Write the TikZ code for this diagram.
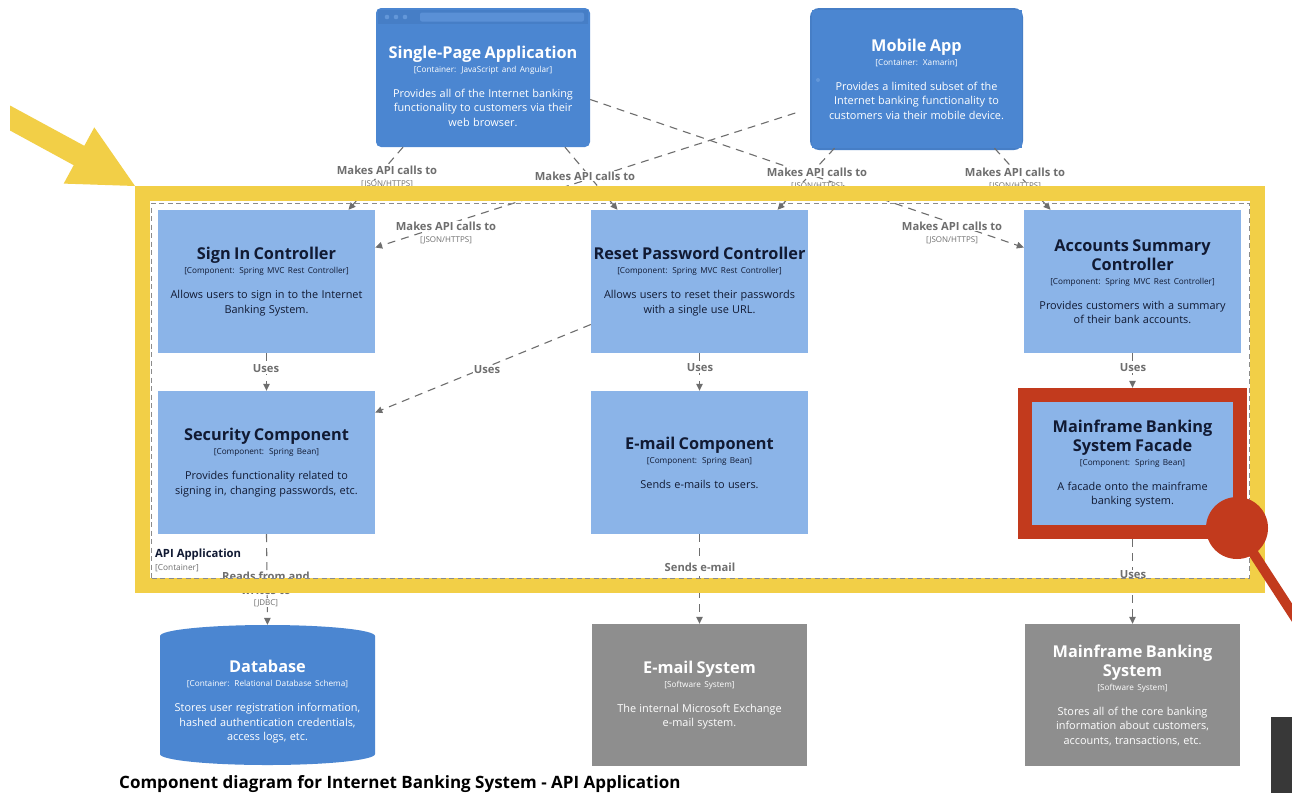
\documentclass[tikz,border=0pt]{standalone}
\usepackage{fontspec}
\setmainfont{Open Sans}
\usetikzlibrary{arrows.meta,calc}

\definecolor{contblue}{HTML}{4B86D1}
\definecolor{contdark}{HTML}{467EC6}
\definecolor{contlight}{HTML}{6397D9}
\definecolor{compblue}{HTML}{8BB4E8}
\definecolor{extgrey}{HTML}{8E8E8E}
\definecolor{relgrey}{HTML}{6E6E6E}
\definecolor{hlyellow}{HTML}{F2CF47}
\definecolor{hlred}{HTML}{C23A1D}
\definecolor{inktext}{HTML}{111A33}

% title / technology / description block of a C4 element
\newcommand\cfour[3]{%
  {\fontsize{16.3}{19}\selectfont\bfseries #1\par}%
  {\fontsize{8.2}{14}\selectfont #2\par}%
  \vspace{10.5pt}%
  {\fontsize{10.9}{14.5}\selectfont #3\par}}

\begin{document}
\begin{tikzpicture}[x=1pt,y=-1pt,
  container/.style={rectangle, rounded corners=5pt, fill=contblue, text=white,
    minimum width=214, minimum height=139, text width=212, align=center, inner sep=0pt},
  component/.style={rectangle, fill=compblue, text=inktext,
    minimum width=217, minimum height=143, text width=214, align=center, inner sep=0pt},
  external/.style={rectangle, fill=extgrey, text=white,
    minimum width=215, minimum height=142, text width=214, align=center, inner sep=0pt},
  blocktext/.style={text width=214, align=center, inner sep=0pt, text=white},
  rel/.style={draw=relgrey, line width=1.1pt, dash pattern=on 8pt off 6pt,
    -{Triangle[length=7pt,width=6.5pt]}},
  rellabel/.style={fill=white, inner sep=1pt, text=relgrey,
    font=\fontsize{11.2}{13}\selectfont\bfseries},
  reltech/.style={fill=white, inner sep=0.5pt, text=relgrey,
    font=\fontsize{8}{9}\selectfont},
]
\useasboundingbox (0,0) rectangle (1292,793);
\clip (0,0) rectangle (1292,793);
\fill[white] (0,0) rectangle (1292,793);

% ---------- containers on top ----------
\node[container] (spa) at (483,77.5) {};
% browser chrome of the single-page application
\fill[contdark] (378,10) rectangle (588,24);
\foreach \dx in {0,9,18} \fill[contlight] (387+\dx,17) circle[radius=2.3pt];
\fill[contlight!60!contblue, rounded corners=2pt] (420,12.5) rectangle (584,21.5);
\node[blocktext] (spa-text) at (483,86) {\cfour{Single-Page Application}{[Container: JavaScript and Angular]}{Provides all of the Internet banking\\functionality to customers via their\\web browser.}};

% mobile device outline
\fill[contdark, rounded corners=9pt] (810,8) rectangle (1023,150);
\node[container, rounded corners=0pt, minimum width=177, minimum height=138, text width=210] (mobile) at (916.5,79)
  {\cfour{Mobile App}{[Container: Xamarin]}{Provides a limited subset of the\\Internet banking functionality to\\customers via their mobile device.}};
\fill[contlight] (818,80) circle[radius=2pt];

% ---------- components ----------
\node[component] (signin) at (266.5,281.5) {\cfour{Sign In Controller}{[Component: Spring MVC Rest Controller]}{Allows users to sign in to the Internet\\Banking System.}};
\node[component] (reset) at (699.5,281.5) {\cfour{Reset Password Controller}{[Component: Spring MVC Rest Controller]}{Allows users to reset their passwords\\with a single use URL.}};
\node[component] (acc) at (1132.5,281.5) {\cfour{Accounts Summary\\Controller}{[Component: Spring MVC Rest Controller]}{Provides customers with a summary\\of their bank accounts.}};
\node[component] (sec) at (266.5,462.5) {\cfour{Security Component}{[Component: Spring Bean]}{Provides functionality related to\\signing in, changing passwords, etc.}};
\node[component] (email) at (699.5,462.5) {\cfour{E-mail Component}{[Component: Spring Bean]}{Sends e-mails to users.}};
\node[component, minimum width=212, minimum height=137] (facade) at (1132.5,463.5) {\cfour{Mainframe Banking\\System Facade}{[Component: Spring Bean]}{A facade onto the mainframe\\banking system.}};

% ---------- database and external systems ----------
\coordinate (dbc) at (267.5,695);
\fill[contblue] ([shift={(-107.5pt,59pt)}]dbc) arc[start angle=180, end angle=0, x radius=107.5pt, y radius=11pt]
  -- ([shift={(107.5pt,-59pt)}]dbc) arc[start angle=0, end angle=-180, x radius=107.5pt, y radius=11pt] -- cycle;
\node[minimum width=215, minimum height=140, inner sep=0pt] (db) at (dbc) {};
\node[blocktext] (db-text) at (267.5,702) {\cfour{Database}{[Container: Relational Database Schema]}{Stores user registration information,\\hashed authentication credentials,\\access logs, etc.}};
\node[external] (emailsys) at (699.5,695) {\cfour{E-mail System}{[Software System]}{The internal Microsoft Exchange\\e-mail system.}};
\node[external] (mainframe) at (1132.5,695) {\cfour{Mainframe Banking\\System}{[Software System]}{Stores all of the core banking\\information about customers,\\accounts, transactions, etc.}};

% ---------- relationships ----------
\draw[rel] ([xshift=-80pt]spa.south) -- ([xshift=82pt]signin.north);
\draw[rel] ([xshift=82pt]spa.south) -- ([xshift=-82pt]reset.north);
\draw[rel] ([yshift=-22pt]spa.east) -- ([yshift=34pt]acc.west);
\draw[rel] ([shift={(-16pt,-34pt)}]mobile.west) -- ([yshift=34pt]signin.east);
\draw[rel] ([xshift=-82pt]mobile.south) -- ([xshift=78pt]reset.north);
\draw[rel] ([xshift=78pt]mobile.south) -- ([xshift=-82pt]acc.north);
\draw[rel] (signin.south) -- (sec.north);
\draw[rel] ([yshift=-43pt]reset.west) -- ([yshift=50pt]sec.east);
\draw[rel] (reset.south) -- (email.north);
\draw[rel] (acc.south) -- ([yshift=7pt]facade.north);
\draw[rel] (sec.south) -- (db.north);
\draw[rel] (email.south) -- (emailsys.north);
\draw[rel] ([yshift=-7pt]facade.south) -- (mainframe.north);

% relationship labels
\node[rellabel] (l1) at (387,170) {Makes API calls to};
\node[reltech] (l1t) at (387,184) {[JSON/HTTPS]};
\node[rellabel] (l2) at (585,176) {Makes API calls to};
\node[rellabel] (l3) at (952,226) {Makes API calls to};
\node[reltech] (l3t) at (952,240) {[JSON/HTTPS]};
\node[rellabel] (l4) at (446,226) {Makes API calls to};
\node[reltech] (l4t) at (446,240) {[JSON/HTTPS]};
\node[rellabel] (l5) at (817,172) {Makes API calls to};
\node[reltech] (l5t) at (817,186) {[JSON/HTTPS]};
\node[rellabel] (l6) at (1015,172) {Makes API calls to};
\node[reltech] (l6t) at (1015,186) {[JSON/HTTPS]};
\node[rellabel] (l7) at (266,369) {Uses};
\node[rellabel] (l8) at (487,370) {Uses};
\node[rellabel] (l9) at (700,368) {Uses};
\node[rellabel] (l10) at (1133,368) {Uses};
\node[rellabel] (l11) at (266,576) {Reads from and};
\node[rellabel] (l11b) at (266,590) {writes to};
\node[reltech] (l11t) at (266,603) {[JDBC]};
\node[rellabel] (l12) at (700,567) {Sends e-mail};
\node[rellabel] (l13) at (1133,575) {Uses};

% ---------- highlight frame around the API application ----------
\draw[hlyellow, line width=15pt] (142.5,193) rectangle (1257.5,585);
\node[draw=relgrey!80, line width=0.9pt, dash pattern=on 5pt off 3.5pt, minimum width=1098, minimum height=375, inner sep=0pt] (apiapp) at (700.5,390.5) {};
\node[anchor=west, inner sep=0pt, text=inktext, font=\fontsize{11.3}{13}\selectfont\bfseries] (apiname) at (155,555) {API Application};
\node[anchor=west, inner sep=0pt, text=relgrey, font=\fontsize{8.3}{9}\selectfont] (apikind) at (155,568) {[Container]};

% red highlight on the facade
\draw[hlred, line width=14pt] (facade.north west) rectangle (facade.south east);
\fill[hlred] (1237,528) circle[radius=31pt];
\draw[hlred, line width=10pt] (1237,528) -- (1300,625);

% yellow pointer
\fill[hlyellow] (10,105.5) -- (84.3,145.8) -- (94.3,127.4) -- (135,186) -- (63.7,183.6) -- (73.7,165.2) -- (10,130.5) -- cycle;

% caption
\node[anchor=west, inner sep=0pt, text=black, font=\fontsize{17}{20}\selectfont\bfseries] (caption) at (119,784) {Component diagram for Internet Banking System - API Application};

% dark panel at the lower right corner
\fill[black!78] (1271,717) rectangle (1292,793);
\end{tikzpicture}
\end{document}
